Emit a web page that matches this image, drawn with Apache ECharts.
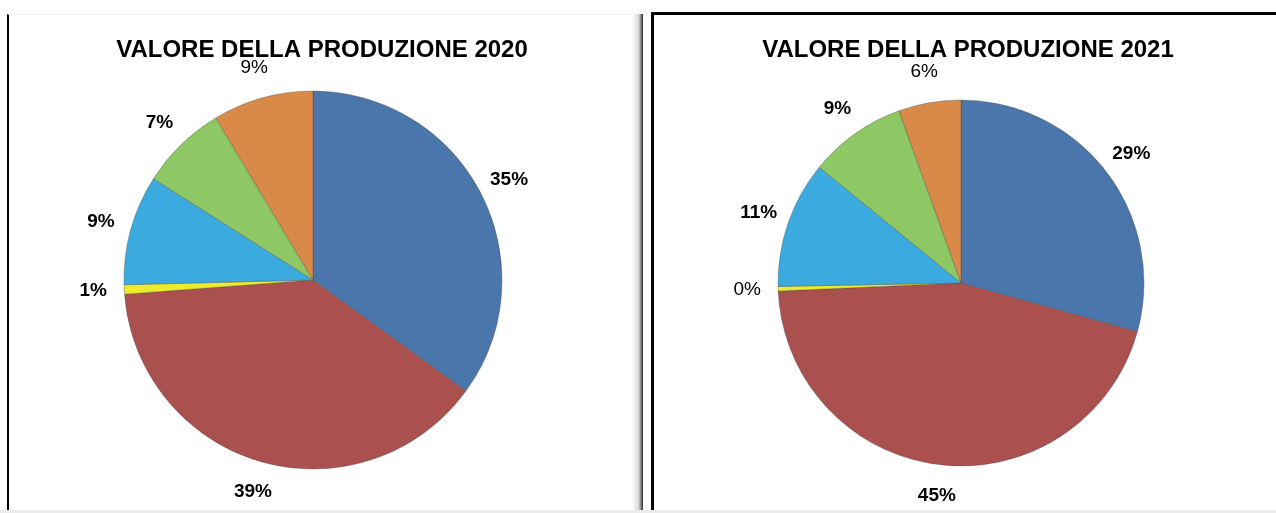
<!DOCTYPE html>
<html>
<head>
<meta charset="utf-8">
<script src="https://cdn.jsdelivr.net/npm/echarts@6/dist/echarts.min.js"></script>
<style>
  html, body { margin: 0; padding: 0; background: #fff; }
  .wrap { position: relative; width: 1276px; height: 513px; overflow: hidden; }
  /* cornici dei due grafici */
  .panel-left {
    position: absolute; left: 7px; top: 14px; width: 626px; height: 496px;
    border-left: 2px solid #000; border-top: 1px solid #f0f0f0;
  }
  .shadow-left {
    position: absolute; left: 632px; top: 14px; width: 11px; height: 499px;
    background: linear-gradient(to right, #fff, #d8d8d8 60%, #777 85%, #222);
  }
  .panel-right {
    position: absolute; left: 651px; top: 12px; width: 640px; height: 510px;
    border-left: 3px solid #000; border-top: 3px solid #000;
  }
  .bottom-line {
    position: absolute; left: 0; top: 510px; width: 1276px; height: 3px; background: #ececec;
  }
  #chart { position: absolute; left: 0; top: 0; width: 1276px; height: 513px; }
</style>
</head>
<body>
<div class="wrap">
  <div class="panel-left"></div>
  <div class="shadow-left"></div>
  <div class="panel-right"></div>
  <div class="bottom-line"></div>
  <div id="chart"></div>
</div>
<script>
// dati (quote percentuali stimate)
const categories = ["Voce 1", "Voce 2", "Voce 3", "Voce 4", "Voce 5", "Voce 6"];
const values2020 = [35.0, 38.8, 0.8, 9.4, 7.4, 8.6];
const values2021 = [29.3, 45.0, 0.4, 11.2, 8.6, 5.5];
const colors = ["#4A76AC", "#AA504F", "#ECEC2C", "#3AAADF", "#8EC865", "#DA8A48"];
const titles = ["VALORE DELLA PRODUZIONE 2020", "VALORE DELLA PRODUZIONE 2021"];
// etichette in grassetto o normali, come nell'originale
const weights2020 = ["bold", "bold", "bold", "bold", "bold", "normal"];
const weights2021 = ["bold", "bold", "normal", "bold", "bold", "normal"];

const chart = echarts.init(document.getElementById("chart"));

function pieData(values, weights, withLabel) {
  return values.map((v, i) => ({
    name: categories[i],
    value: v,
    label: withLabel ? { fontWeight: weights[i] } : undefined
  }));
}

function pieSeries(values, weights, center, r) {
  return [
    {
      type: "pie",
      center: center,
      radius: [0, r],
      startAngle: 90,
      data: pieData(values, weights, false),
      label: { show: false },
      labelLine: { show: false },
      itemStyle: { borderColor: "rgba(70,70,70,0.6)", borderWidth: 0.6 },
      emphasis: { disabled: true },
      silent: true
    },
    {
      // anello trasparente che porta solo le etichette
      type: "pie",
      center: center,
      radius: [r, r + 56],
      startAngle: 90,
      data: pieData(values, weights, true),
      itemStyle: { color: "transparent", borderWidth: 0 },
      label: {
        show: true,
        position: "inside",
        color: "#000",
        fontSize: 19,
        fontFamily: "Liberation Sans, Arial, sans-serif",
        formatter: p => Math.round(p.percent) + "%"
      },
      labelLine: { show: false },
      emphasis: { disabled: true },
      silent: true
    }
  ];
}

const titleStyle = { fontSize: 24, fontWeight: "bold", color: "#000", fontFamily: "Liberation Sans, Arial, sans-serif" };

const option = {
  animation: false,
  color: colors,
  title: [
    { text: titles[0], left: 317, top: 33, textAlign: "center", textStyle: titleStyle },
    { text: titles[1], left: 963, top: 33, textAlign: "center", textStyle: titleStyle }
  ],
  series: [
    ...pieSeries(values2020, weights2020, [313, 280], 189),
    ...pieSeries(values2021, weights2021, [961, 283], 183)
  ]
};

chart.setOption(option);
</script>
</body>
</html>
